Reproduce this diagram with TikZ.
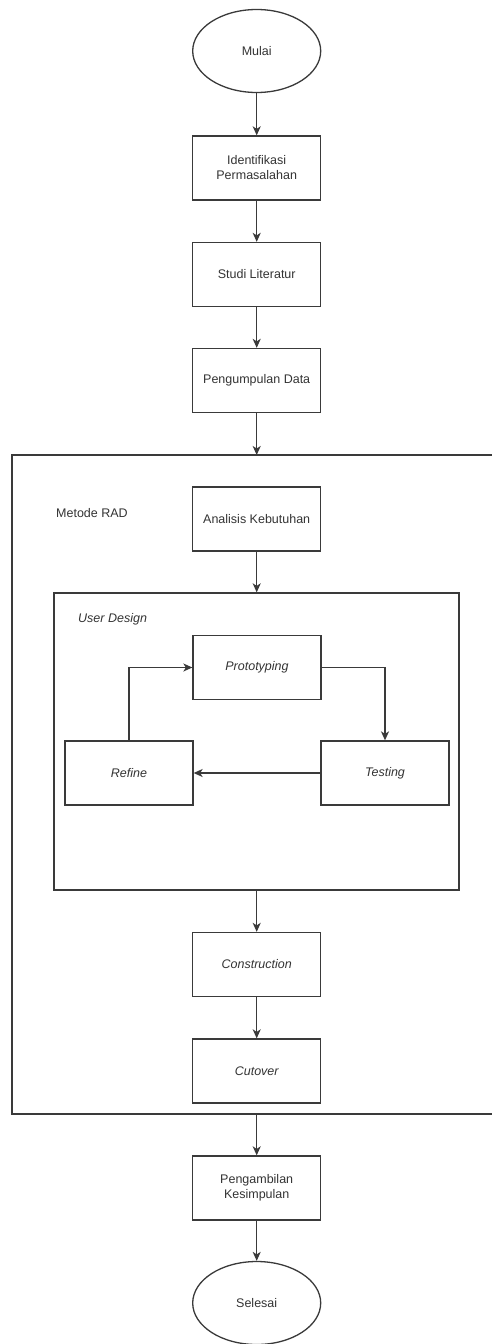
\documentclass[tikz,border=0pt]{standalone}
\usepackage{fontspec}
\setmainfont{Liberation Sans}
\usetikzlibrary{shapes.geometric,arrows.meta}
\definecolor{ln}{HTML}{3A3A3A}
\definecolor{tx}{HTML}{333333}
\begin{document}
\begin{tikzpicture}[x=1pt,y=-1pt,
  every node/.style={font=\fontsize{12.5}{15}\selectfont, text=tx},
  box/.style={draw=ln, line width=1.3pt, rectangle, minimum width=128pt, minimum height=64pt, inner sep=2pt, align=center},
  oval/.style={draw=ln, line width=1.3pt, ellipse, minimum width=128pt, minimum height=83pt, inner sep=0pt},
  arr/.style={draw=ln, line width=1.3pt, -{Stealth[length=9pt,width=8pt,inset=2.5pt]}},
  frame/.style={draw=ln, line width=1.3pt},
  lbl/.style={anchor=west, inner sep=0pt}
]
\useasboundingbox (0,0) rectangle (491,1344);
% outer frame (right edge lies beyond the page)
\coordinate (oTop) at (256.7,455);
\coordinate (oBot) at (256.7,1114);
\draw[frame] (495,455) -- (12,455) -- (12,1114) -- (495,1114);
\node[lbl] (metode) at (56,513) {Metode RAD};

\node[oval] (mulai) at (256.7,51) {Mulai};
\node[box] (ident) at (256.7,168) {Identifikasi\\Permasalahan};
\node[box] (studi) at (256.7,274.5) {Studi Literatur};
\node[box] (kumpul) at (256.7,380.5) {Pengumpulan Data};
\node[box] (analisis) at (256.7,519) {Analisis Kebutuhan};

\node[draw=ln, line width=1.3pt, rectangle, minimum width=405pt, minimum height=297pt, inner sep=0pt] (ud) at (256.5,741.5) {};
\node[lbl, font=\fontsize{12.5}{15}\selectfont\itshape] (udl) at (78,619) {User Design};

\node[box, font=\fontsize{12.5}{15}\selectfont\itshape] (proto) at (257,667.5) {Prototyping};
\node[box, font=\fontsize{12.5}{15}\selectfont\itshape] (refine) at (129,773) {Refine};
\node[box, font=\fontsize{12.5}{15}\selectfont\itshape] (testing) at (385,773) {Testing};

\node[box, font=\fontsize{12.5}{15}\selectfont\itshape] (constr) at (256.7,964.5) {Construction};
\node[box, font=\fontsize{12.5}{15}\selectfont\itshape] (cut) at (256.7,1071) {Cutover};
\node[box] (ambil) at (256.7,1188) {Pengambilan\\Kesimpulan};
\node[oval] (selesai) at (256.7,1303) {Selesai};

\draw[arr] (mulai) -- (ident);
\draw[arr] (ident) -- (studi);
\draw[arr] (studi) -- (kumpul);
\draw[arr] (kumpul) -- (oTop);
\draw[arr] (analisis) -- (analisis.south |- ud.north);
\draw[arr] (refine.north) |- (proto.west);
\draw[arr] (proto.east) -| (testing.north);
\draw[arr] (testing.west) -- (refine.east);
\draw[arr] (ud.south -| constr) -- (constr);
\draw[arr] (constr) -- (cut);
\draw[arr] (oBot) -- (ambil);
\draw[arr] (ambil) -- (selesai);
\end{tikzpicture}
\end{document}
